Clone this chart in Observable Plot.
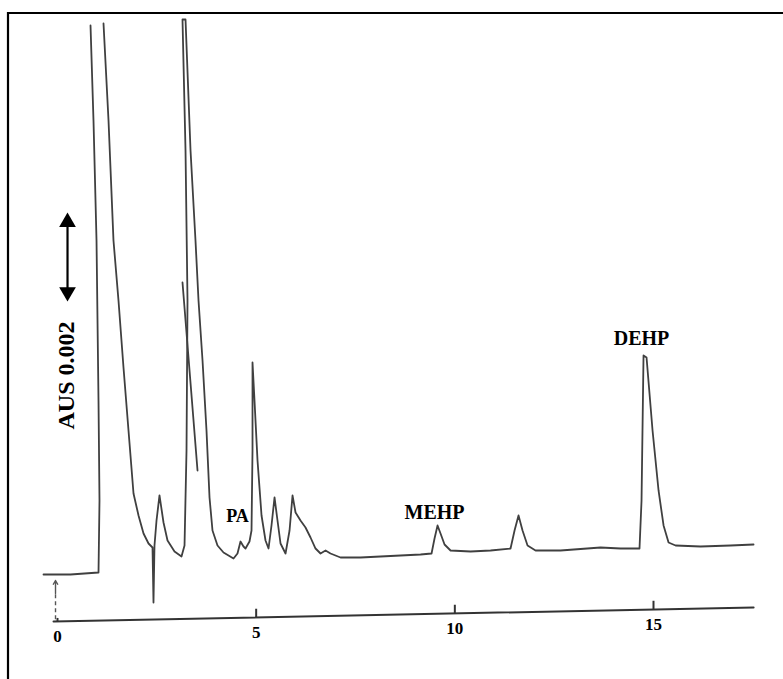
<!DOCTYPE html>
<html><head><meta charset="utf-8">
<script src="https://cdn.jsdelivr.net/npm/d3@7"></script>
<script src="https://cdn.jsdelivr.net/npm/@observablehq/plot@0.6"></script>
<style>
html,body{margin:0;padding:0;background:#fff;overflow:hidden;}
#chart{width:783px;height:679px;overflow:hidden;}
</style></head><body>
<div id="chart"></div>
<script>
// Chromatogram trace: retention time (min) and detector response (mAU, 1 unit = 0.001 AUS)
const traceTime = [-0.352,0.327,1.032,1.057,1.032,0.982,0.906,0.831,null,1.158,1.284,1.409,1.535,1.661,1.787,1.913,2.039,2.165,2.291,2.391,2.416,2.441,2.492,2.567,2.668,2.769,2.945,3.121,3.197,3.247,3.272,3.222,3.146,3.222,3.348,3.473,3.549,3.650,3.750,3.826,3.901,4.027,4.178,4.430,4.530,4.606,4.681,4.732,4.832,4.883,4.908,4.908,4.958,5.034,5.135,5.235,5.311,5.386,5.462,5.537,5.613,5.739,5.840,5.915,5.991,6.116,6.242,6.368,6.494,6.620,6.746,6.871,7.123,7.627,8.130,8.633,9.137,9.414,9.489,9.565,9.640,9.741,9.892,10.395,10.899,11.402,11.503,11.603,11.704,11.830,12.031,12.660,13.667,14.170,14.648,14.699,14.749,14.825,14.976,15.127,15.253,15.379,15.555,16.184,16.939,17.518];
const traceSignal = [1.057,1.057,1.103,2.759,5.057,8.736,11.494,13.678,null,13.724,11.494,8.736,7.356,5.816,4.368,2.920,2.414,2.000,1.770,1.678,0.414,1.724,2.299,2.874,2.253,1.839,1.586,1.471,1.724,3.908,7.356,10.805,13.816,13.816,10.805,8.736,7.356,5.977,4.368,2.828,2.069,1.724,1.563,1.425,1.540,1.816,1.701,1.655,1.816,2.069,3.908,5.931,5.057,3.678,2.414,1.839,1.655,2.184,2.828,2.299,1.770,1.540,2.069,2.874,2.483,2.299,2.138,1.908,1.655,1.540,1.609,1.540,1.448,1.448,1.471,1.494,1.517,1.540,1.885,2.184,2.000,1.747,1.609,1.586,1.609,1.655,2.069,2.414,2.069,1.724,1.609,1.609,1.678,1.655,1.655,2.759,6.092,6.046,4.368,2.989,2.184,1.793,1.724,1.701,1.724,1.747];
// detached pen stroke inside the large peak at ~3.2 min
const strokeTime = [3.146, 3.524];
const strokeSignal = [7.770, 3.448];

// time axis (slightly tilted in the scan)
const axisTime = [-0.10, 17.52];
const axisLevel = [-0.023, 0.30];
const tickValues = [0, 5, 10, 15];
const tickLabels = ["0", "5", "10", "15"];

// peak labels
const peakNames = ["PA", "MEHP", "DEHP"];
const peakLabelTime = [4.531, 9.489, 14.699];
const peakLabelLevel = [2.391, 2.483, 6.483];
const peakLabelSize = [18, 20, 20];

// absorbance scale bar: 0.002 AUS
const scaleBarLabel = "AUS 0.002";
const scaleBarTime = 0.252;
const scaleBarFrom = 7.356;  // mAU
const scaleBarTo = 9.356;    // mAU (= +0.002 AUS)

// injection marker
const injectTime = -0.05;

const trace = traceTime.map((t, i) => ({t, v: traceSignal[i]}));
const stroke2 = strokeTime.map((t, i) => ({t, v: strokeSignal[i]}));
const axisPts = axisTime.map((t, i) => ({t, v: axisLevel[i]}));
const axisAt = t => axisLevel[0] + (t - axisTime[0]) * (axisLevel[1] - axisLevel[0]) / (axisTime[1] - axisTime[0]);
const ticks = tickValues.map((t, i) => ({t, base: axisAt(t), top: axisAt(t) + (t === 0 ? 0.08 : 0.2), label: tickLabels[i]}));
const peaks = peakNames.map((n, i) => ({n, t: peakLabelTime[i], v: peakLabelLevel[i], s: peakLabelSize[i]}));

const pxPerUnit = 43.5;
const headOffset = 9 / pxPerUnit;
const serif = "'Liberation Serif', 'Times New Roman', serif";

const chart = Plot.plot({
  width: 783, height: 679,
  marginLeft: 57, marginRight: 130, marginTop: 11, marginBottom: 59,
  x: {domain: [0, 15], axis: null},
  y: {domain: [0, 14], axis: null},
  style: {background: "#fff", overflow: "hidden"},
  marks: [
    Plot.line(trace, {x: "t", y: "v", stroke: "#404040", strokeWidth: 1.8}),
    Plot.line(stroke2, {x: "t", y: "v", stroke: "#404040", strokeWidth: 1.8}),
    Plot.line(axisPts, {x: "t", y: "v", stroke: "#333", strokeWidth: 2}),
    Plot.link(ticks, {x1: "t", x2: "t", y1: "base", y2: "top", stroke: "#333", strokeWidth: 2}),
    Plot.text(ticks, {x: "t", y: "base", text: "label", dy: 15, fontSize: 17, fontWeight: "bold", fontFamily: serif, fill: "#000"}),
    Plot.text(peaks, {x: "t", y: "v", text: "n", fontSize: "s", fontWeight: "bold", fontFamily: serif, fill: "#000"}),
    Plot.text([scaleBarLabel], {x: () => 0.227, y: () => 5.632, text: d => d, rotate: -90, fontSize: 24, fontWeight: "bold", fontFamily: serif, fill: "#000"}),
    Plot.link([0], {x1: () => scaleBarTime, x2: () => scaleBarTime, y1: () => scaleBarFrom + 0.25, y2: () => scaleBarTo - 0.25, stroke: "#000", strokeWidth: 2.2}),
    Plot.dot([0, 1], {x: () => scaleBarTime, y: (d) => d === 0 ? scaleBarTo - headOffset * 0.95 : scaleBarFrom + headOffset * 0.95, rotate: (d) => d === 0 ? 0 : 180, symbol: "triangle", r: 6.2, fill: "#000", stroke: "none"}),
    Plot.link([0], {x1: () => injectTime, x2: () => injectTime, y1: () => 0.03, y2: () => 0.66, stroke: "#555", strokeWidth: 1.4, strokeDasharray: "4,3"}),
    Plot.arrow([0], {x1: () => injectTime, x2: () => injectTime, y1: () => 0.62, y2: () => 0.92, stroke: "#555", strokeWidth: 1.4, headLength: 9})
  ]
});
// picture border (top and left edges only, as in the scan)
const svg = d3.select(chart);
svg.append("path").attr("d", "M8,679V13H783").attr("fill", "none").attr("stroke", "#000").attr("stroke-width", 2.2);
document.getElementById("chart").appendChild(chart);
</script>
</body></html>
